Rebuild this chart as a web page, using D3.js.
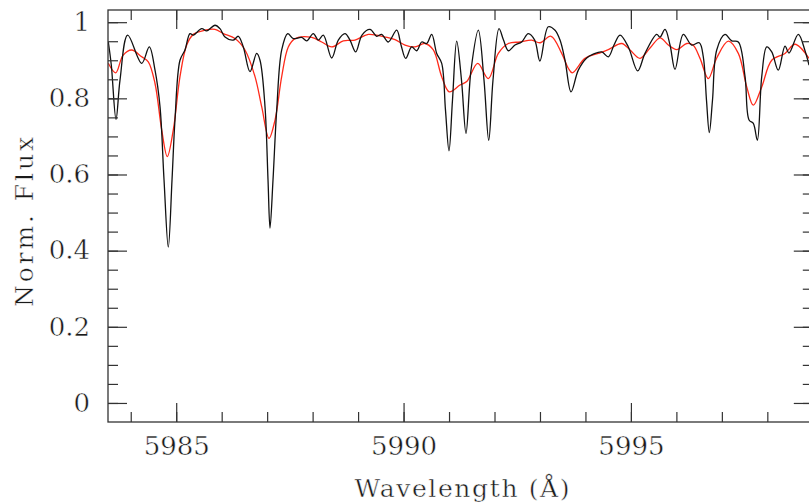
<!DOCTYPE html>
<html>
<head>
<meta charset="utf-8">
<script src="https://cdn.jsdelivr.net/npm/d3@7"></script>
<style>
  html, body { margin: 0; padding: 0; background: #fff; }
  svg { display: block; }
</style>
</head>
<body>
<div id="chart"></div>
<script>
// observed spectrum (black)
const obsWave = [5983.507, 5983.573, 5983.676, 5983.764, 5983.933, 5984.241, 5984.408, 5984.534, 5984.644, 5984.732, 5984.826, 5984.908,
  5984.973, 5985.083, 5985.193, 5985.303, 5985.376, 5985.561, 5985.671, 5985.853, 5985.963, 5986.073, 5986.256, 5986.366,
  5986.476, 5986.623, 5986.770, 5986.843, 5986.953, 5987.019, 5987.063, 5987.129, 5987.210, 5987.320, 5987.452, 5987.575,
  5987.760, 5987.870, 5988.015, 5988.125, 5988.235, 5988.420, 5988.565, 5988.712, 5988.822, 5988.948, 5989.086, 5989.262,
  5989.409, 5989.519, 5989.664, 5989.849, 5989.944, 5990.047, 5990.179, 5990.289, 5990.399, 5990.509, 5990.619, 5990.729,
  5990.839, 5990.922, 5990.999, 5991.076, 5991.169, 5991.274, 5991.373, 5991.483, 5991.644, 5991.769, 5991.873, 5991.967,
  5992.099, 5992.198, 5992.304, 5992.451, 5992.598, 5992.743, 5992.884, 5992.999, 5993.183, 5993.331, 5993.441, 5993.551,
  5993.683, 5993.843, 5994.028, 5994.173, 5994.358, 5994.503, 5994.628, 5994.760, 5994.943, 5995.149, 5995.310, 5995.567,
  5995.640, 5995.750, 5995.860, 5995.970, 5996.152, 5996.337, 5996.504, 5996.592, 5996.662, 5996.724, 5996.794, 5996.887,
  5997.069, 5997.217, 5997.362, 5997.510, 5997.598, 5997.692, 5997.780, 5997.877, 5997.987, 5998.097, 5998.241, 5998.389,
  5998.477, 5998.681, 5998.829, 5998.917];
const obsFlux = [0.948, 0.887, 0.745, 0.848, 0.966, 0.892, 0.935, 0.874, 0.778, 0.586, 0.409, 0.586,
  0.743, 0.900, 0.927, 0.970, 0.966, 0.983, 0.977, 0.992, 0.983, 0.961, 0.953, 0.963,
  0.935, 0.870, 0.918, 0.900, 0.778, 0.586, 0.459, 0.586, 0.769, 0.927, 0.970, 0.957,
  0.960, 0.951, 0.970, 0.953, 0.966, 0.906, 0.953, 0.970, 0.953, 0.922, 0.966, 0.981,
  0.963, 0.968, 0.948, 0.979, 0.940, 0.905, 0.935, 0.925, 0.948, 0.944, 0.968, 0.918,
  0.892, 0.769, 0.662, 0.795, 0.950, 0.848, 0.708, 0.874, 0.979, 0.848, 0.690, 0.848,
  0.983, 0.953, 0.925, 0.940, 0.948, 0.970, 0.953, 0.898, 0.988, 0.979, 0.953, 0.900,
  0.817, 0.874, 0.906, 0.916, 0.922, 0.909, 0.940, 0.966, 0.935, 0.872, 0.918, 0.968,
  0.961, 0.981, 0.940, 0.876, 0.968, 0.940, 0.946, 0.909, 0.795, 0.710, 0.795, 0.927,
  0.968, 0.951, 0.948, 0.857, 0.743, 0.734, 0.690, 0.857, 0.935, 0.922, 0.874, 0.937,
  0.919, 0.968, 0.925, 0.887];

// model spectrum (red)
const modWave = [5983.507, 5983.669, 5983.830, 5984.021, 5984.241, 5984.386, 5984.534, 5984.681, 5984.804, 5984.936, 5985.083,
  5985.231, 5985.376, 5985.633, 5985.853, 5986.036, 5986.293, 5986.513, 5986.733, 5986.880, 5987.041, 5987.173, 5987.320,
  5987.465, 5987.613, 5987.980, 5988.200, 5988.420, 5988.675, 5988.932, 5989.225, 5989.592, 5989.812, 5990.032, 5990.252,
  5990.472, 5990.654, 5990.839, 5991.006, 5991.241, 5991.389, 5991.631, 5991.864, 5992.084, 5992.304, 5992.561, 5992.818,
  5993.001, 5993.243, 5993.478, 5993.623, 5993.711, 5993.990, 5994.283, 5994.503, 5994.798, 5994.980, 5995.200, 5995.420,
  5995.640, 5995.822, 5996.007, 5996.227, 5996.366, 5996.520, 5996.702, 5996.887, 5997.142, 5997.362, 5997.547, 5997.692,
  5997.877, 5998.097, 5998.389, 5998.609, 5998.917];
const modFlux = [0.892, 0.867, 0.913, 0.927, 0.909, 0.896, 0.839, 0.717, 0.647, 0.717, 0.857,
  0.940, 0.968, 0.979, 0.981, 0.970, 0.957, 0.927, 0.857, 0.778, 0.695, 0.743, 0.857,
  0.935, 0.957, 0.960, 0.948, 0.935, 0.951, 0.953, 0.968, 0.961, 0.954, 0.940, 0.935,
  0.944, 0.927, 0.857, 0.817, 0.835, 0.844, 0.892, 0.852, 0.918, 0.944, 0.948, 0.953,
  0.946, 0.963, 0.918, 0.879, 0.867, 0.905, 0.918, 0.928, 0.944, 0.927, 0.905, 0.932,
  0.959, 0.940, 0.928, 0.944, 0.940, 0.905, 0.852, 0.906, 0.950, 0.918, 0.830, 0.782,
  0.830, 0.900, 0.918, 0.942, 0.905];

const xMajor = [5985, 5990, 5995];
const xMinor = d3.range(5984, 5999.5, 1);
const yMajor = [0, 0.2, 0.4, 0.6, 0.8, 1];
const yMinor = d3.range(0, 1.0001, 0.05);
const xTickLabels = ["5985", "5990", "5995"];
const yTickLabels = ["0", "0.2", "0.4", "0.6", "0.8", "1"];

const width = 809, height = 504;
const plotLeft = 108, plotRight = 812.8, plotTop = 10, plotBottom = 422;
const font = "'DejaVu Serif', serif";

const x = d3.scaleLinear().domain([5983.5, 5999]).range([plotLeft, plotRight]);
const y = d3.scaleLinear().domain([-0.05, 1.032]).range([plotBottom, plotTop]);

const svg = d3.select("#chart")
  .append("svg")
  .attr("width", width)
  .attr("height", height);

svg.append("defs").append("clipPath").attr("id", "clip")
  .append("rect")
  .attr("x", plotLeft).attr("y", plotTop)
  .attr("width", plotRight - plotLeft).attr("height", plotBottom - plotTop);

const line = d3.line()
  .x(d => x(d[0]))
  .y(d => y(d[1]))
  .curve(d3.curveCatmullRom.alpha(0.5));

svg.append("path")
  .datum(d3.zip(modWave, modFlux))
  .attr("clip-path", "url(#clip)")
  .attr("fill", "none")
  .attr("stroke", "#ff2a1a")
  .attr("stroke-width", 1.3)
  .attr("d", line);

svg.append("path")
  .datum(d3.zip(obsWave, obsFlux))
  .attr("clip-path", "url(#clip)")
  .attr("fill", "none")
  .attr("stroke", "#111")
  .attr("stroke-width", 1.3)
  .attr("d", line);

// thin the glyphs a little so the serif text looks as light as the original
function lightText(sel) {
  sel.attr("font-family", font)
    .attr("fill", "#1a1a1a")
    .attr("stroke", "#fff")
    .attr("stroke-width", 0.45);
}

// ticks on all four sides, pointing inward
function drawAxis(axis, transform, labels) {
  const g = svg.append("g").attr("transform", transform).call(axis);
  g.select(".domain").remove();
  g.selectAll("line").attr("stroke", "#333").attr("stroke-width", 1.2);
  g.selectAll("text").attr("font-size", 26).call(lightText);
  if (!labels) g.selectAll("text").remove();
  return g;
}

drawAxis(d3.axisBottom(x).tickValues(xMinor).tickSize(-10), `translate(0,${plotBottom})`, false);
drawAxis(d3.axisTop(x).tickValues(xMinor).tickSize(-10), `translate(0,${plotTop})`, false);
drawAxis(d3.axisBottom(x).tickValues(xMajor).tickSize(-19).tickPadding(15)
  .tickFormat((d, i) => xTickLabels[i]), `translate(0,${plotBottom})`, true);
drawAxis(d3.axisTop(x).tickValues(xMajor).tickSize(-19), `translate(0,${plotTop})`, false);

drawAxis(d3.axisLeft(y).tickValues(yMinor).tickSize(-10), `translate(${plotLeft},0)`, false);
drawAxis(d3.axisRight(y).tickValues(yMinor).tickSize(-10), `translate(${plotRight},0)`, false);
drawAxis(d3.axisLeft(y).tickValues(yMajor).tickSize(-19).tickPadding(18)
  .tickFormat((d, i) => yTickLabels[i]), `translate(${plotLeft},0)`, true);
drawAxis(d3.axisRight(y).tickValues(yMajor).tickSize(-19), `translate(${plotRight},0)`, false);

// frame
svg.append("rect")
  .attr("x", plotLeft).attr("y", plotTop)
  .attr("width", plotRight - plotLeft).attr("height", plotBottom - plotTop)
  .attr("fill", "none")
  .attr("stroke", "#333")
  .attr("stroke-width", 1.3);

svg.append("text")
  .attr("x", 462)
  .attr("y", 497)
  .attr("text-anchor", "middle")
  .attr("font-size", 25)
  .attr("textLength", 215)
  .attr("lengthAdjust", "spacing")
  .call(lightText)
  .text("Wavelength (Å)");

svg.append("text")
  .attr("transform", "translate(33,222) rotate(-90)")
  .attr("text-anchor", "middle")
  .attr("font-size", 25)
  .attr("textLength", 170)
  .attr("lengthAdjust", "spacing")
  .call(lightText)
  .text("Norm. Flux");
</script>
</body>
</html>
